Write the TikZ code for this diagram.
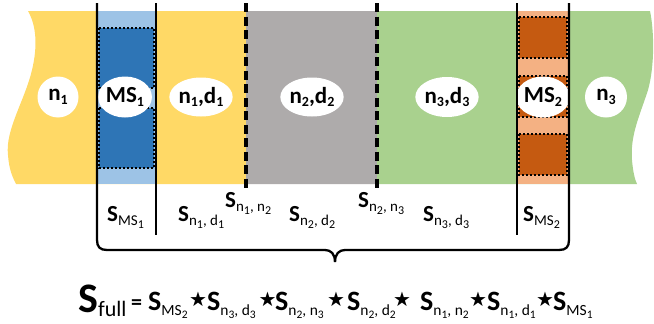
\documentclass[tikz,border=0pt]{standalone}
\usepackage{fontspec}
\setmainfont{Carlito}
\newfontfamily\symfont{DejaVu Sans}
\definecolor{cyel}{HTML}{FFD966}
\definecolor{cgray}{HTML}{AEABAB}
\definecolor{cgreen}{HTML}{A9D18E}
\definecolor{clblue}{HTML}{9DC3E6}
\definecolor{cdblue}{HTML}{2E75B6}
\definecolor{clor}{HTML}{F4B183}
\definecolor{cdor}{HTML}{C55A11}
\newcommand\esub[1]{\raisebox{-3.5pt}{\fontsize{14}{14}\selectfont #1}}
\newcommand\ssub[1]{\raisebox{-3pt}{\fontsize{12}{12}\selectfont #1}}
\newcommand\blab[1]{{\fontsize{23}{23}\selectfont\bfseries S}\raisebox{-4pt}{\fontsize{15}{15}\selectfont\mdseries #1}}
\newcommand\flab[1]{{\fontsize{28}{28}\selectfont\bfseries S}\raisebox{-5pt}{\fontsize{15.5}{15.5}\selectfont\mdseries #1}}
\newcommand\fsub[1]{\raisebox{-3pt}{\fontsize{11.5}{11.5}\selectfont #1}}
\tikzset{
  ell/.style={ellipse, fill=white, inner sep=0pt, font=\fontsize{23}{23}\selectfont\bfseries},
  slab/.style={anchor=base west, inner sep=0pt},
  starn/.style={inner sep=0pt, font=\symfont\fontsize{20}{20}\selectfont},
  solidln/.style={line width=2.3pt},
  dashln/.style={line width=4.5pt, dash pattern=on 9pt off 4.5pt},
  dotbox/.style={line width=2pt, dash pattern=on 2pt off 2pt},
}
\usetikzlibrary{shapes.geometric}
\begin{document}
\begin{tikzpicture}[x=1pt,y=-1pt]
\useasboundingbox (0,0) rectangle (654,324);
% band
\begin{scope}
\clip (28,11) -- (650,11) .. controls (654,30) and (655,65) .. (648,90)
  .. controls (640,115) and (630,135) .. (632,160)
  .. controls (633,172) and (635,180) .. (637,184)
  -- (16,184) .. controls (13,178) and (9,170) .. (8,155)
  .. controls (5,130) and (25,100) .. (32,70)
  .. controls (38,45) and (36,25) .. (28,11) -- cycle;
\fill[cyel] (0,0) rectangle (246,200);
\fill[cgray] (246,0) rectangle (377,200);
\fill[cgreen] (377,0) rectangle (660,200);
\end{scope}
% MS1
\fill[clblue] (97,11) rectangle (156,184);
\fill[cdblue] (99,28) rectangle (154,88);
\fill[cdblue] (99,108) rectangle (154,168);
\draw[dotbox] (99,28) rectangle (154,88);
\draw[dotbox] (99,108) rectangle (154,168);
% MS2
\fill[clor] (517,11) rectangle (569,184);
\foreach \a/\b in {17/58,76/117,134/175}{
  \fill[cdor] (519,\a) rectangle (567,\b);
  \draw[dotbox] (519,\a) rectangle (567,\b);
}
% ellipses
\node[ell, minimum width=41pt, minimum height=41pt] (n1) at (58,97) {n\esub{1}};
\node[ell, minimum width=42pt, minimum height=41pt] (ms1) at (125,97) {MS\esub{1}};
\node[ell, minimum width=56pt, minimum height=39pt] (nd1) at (201,97) {n\esub{1},d\esub{1}};
\node[ell, minimum width=56pt, minimum height=39pt] (nd2) at (312,97) {n\esub{2},d\esub{2}};
\node[ell, minimum width=57pt, minimum height=40pt] (nd3) at (447,97) {n\esub{3},d\esub{3}};
\node[ell, minimum width=45pt, minimum height=41pt] (ms2) at (543,97) {MS\esub{2}};
\node[ell, minimum width=42pt, minimum height=41pt] (n3) at (606,97) {n\esub{3}};
% coordinates for lines
\coordinate (a1) at (97,3);
\coordinate (b1) at (156,3);
\coordinate (b2) at (156,235);
\coordinate (a2) at (517,3);
\coordinate (b3) at (517,235);
\coordinate (c1) at (569,3);
\coordinate (tip) at (335,262);
\coordinate (d1) at (246,3);
\coordinate (d2) at (246,192);
\coordinate (e1) at (377,3);
\coordinate (e2) at (377,192);
% dashed
\draw[dashln] (d1) -- (d2);
\draw[dashln] (e1) -- (e2);
% solid
\draw[solidln] (b1) -- (b2);
\draw[solidln] (a2) -- (b3);
\draw[solidln, line join=round] (a1) -- (97,240) .. controls (97,247) and (100,250) .. (107,250)
  -- (325,250) .. controls (331,250) and (335,254) .. (tip);
\draw[solidln, line join=round] (c1) -- (569,240) .. controls (569,247) and (566,250) .. (559,250)
  -- (345,250) .. controls (339,250) and (335,254) .. (tip);
% bottom labels
\node[slab] (s1) at (107,221) {\blab{MS\ssub{1}}};
\node[slab] (s2) at (178,221) {\blab{n\ssub{1}, d\ssub{1}}};
\node[slab] (s3) at (225,207) {\blab{n\ssub{1}, n\ssub{2}}};
\node[slab] (s4) at (289,221) {\blab{n\ssub{2}, d\ssub{2}}};
\node[slab] (s5) at (358,207) {\blab{n\ssub{2}, n\ssub{3}}};
\node[slab] (s6) at (423,221) {\blab{n\ssub{3}, d\ssub{3}}};
\node[slab] (s7) at (523,221) {\blab{MS\ssub{2}}};
% formula
\node[slab] (fS) at (78,312) {{\fontsize{42}{42}\selectfont\bfseries S}\raisebox{-4pt}{\fontsize{22}{22}\selectfont full}};
\node[slab] (feq) at (131,309) {\fontsize{22}{22}\selectfont\bfseries =};
\node[slab] (f1) at (148,310) {\flab{MS\fsub{2}}};
\node[starn] (st1) at (198,299.5) {★};
\node[slab] (f2) at (207,310) {\flab{n\fsub{3}, d\fsub{3}}};
\node[starn] (st2) at (267.5,299.5) {★};
\node[slab] (f3) at (275,310) {\flab{n\fsub{2}, n\fsub{3}}};
\node[starn] (st3) at (336,299.5) {★};
\node[slab] (f4) at (347,310) {\flab{n\fsub{2}, d\fsub{2}}};
\node[starn] (st4) at (402,299.5) {★};
\node[slab] (f5) at (420,310) {\flab{n\fsub{1}, n\fsub{2}}};
\node[starn] (st5) at (478,299.5) {★};
\node[slab] (f6) at (487,310) {\flab{n\fsub{1}, d\fsub{1}}};
\node[starn] (st6) at (545,299.5) {★};
\node[slab] (f7) at (553,310) {\flab{MS\fsub{1}}};
\end{tikzpicture}
\end{document}
